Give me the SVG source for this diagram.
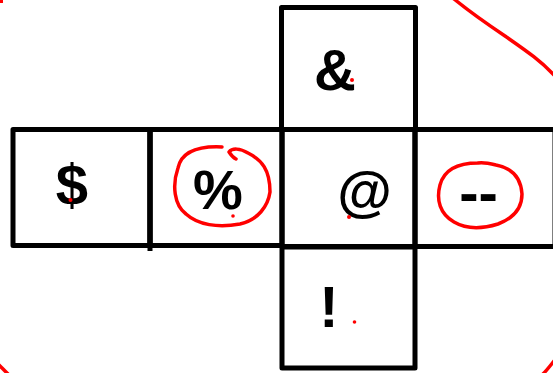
<svg xmlns="http://www.w3.org/2000/svg" width="553" height="373" viewBox="0 0 553 373">
<style>
.box{fill:none;stroke:#000;stroke-width:5;stroke-linejoin:round}
.lbl{font-family:"Liberation Sans",Arial,sans-serif;font-size:58px;font-weight:bold;fill:#000;text-anchor:middle}
.red{fill:none;stroke:#f00;stroke-width:3.5;stroke-linecap:round;stroke-linejoin:round}
.dot{fill:#f00}
</style>
<rect width="553" height="373" fill="#fff"/>
<g id="face-amp"><rect class="box" x="281.5" y="7.5" width="134" height="122"/><text class="lbl" x="335" y="90">&amp;</text></g>
<g id="face-dollar"><rect class="box" x="13" y="129.5" width="137" height="116"/><text class="lbl" x="72" y="205">$</text></g>
<g id="face-percent"><rect class="box" x="150" y="129.5" width="132" height="116"/><line class="box" x1="150" y1="129.5" x2="150" y2="251"/><text class="lbl" x="218" y="209" style="font-size:56px">%</text></g>
<g id="face-at"><rect class="box" x="282" y="129.5" width="133" height="117"/><text class="lbl" x="364.5" y="210" style="font-size:56px">@</text></g>
<g id="face-dash"><rect class="box" x="415" y="129.5" width="140" height="117"/><text class="lbl" x="478.5" y="213">--</text></g>
<g id="face-bang"><rect class="box" x="282" y="247" width="133" height="121"/><text class="lbl" x="329" y="327">!</text></g>
<g id="connectors"></g>
<g id="annotations">
<path class="red" d="M222,147 C200,146 182,150 178,168 C172,185 174,205 186,214 C198,225 218,228 240,224 C258,220 268,206 270,192 C270,170 262,160 248,153 C240,148 232,148 229,152 C231,155 234,158 236,159"/>
<path class="red" d="M478,163 C458,163 444,170 440,185 C436,200 440,214 454,222 C466,229 482,229 498,224 C514,218 522,208 522,194 C521,178 512,168 496,165 C488,163 482,162 478,163"/>
<path class="red" d="M454,-1 C470,12 484,22 505,36 C525,50 540,60 555,76"/>
<path class="red" d="M-1,365 C2,368 4,370 8,374"/>
<path class="red" d="M543,374 C547,370 550,366 554,361"/>
<rect class="dot" x="0" y="0" width="3" height="3"/>
<circle class="dot" cx="352" cy="80" r="2"/>
<circle class="dot" cx="70.5" cy="200" r="2"/>
<circle class="dot" cx="233" cy="216" r="1.8"/>
<circle class="dot" cx="349" cy="217" r="2"/>
<circle class="dot" cx="354.5" cy="322" r="1.8"/>
</g>
</svg>
